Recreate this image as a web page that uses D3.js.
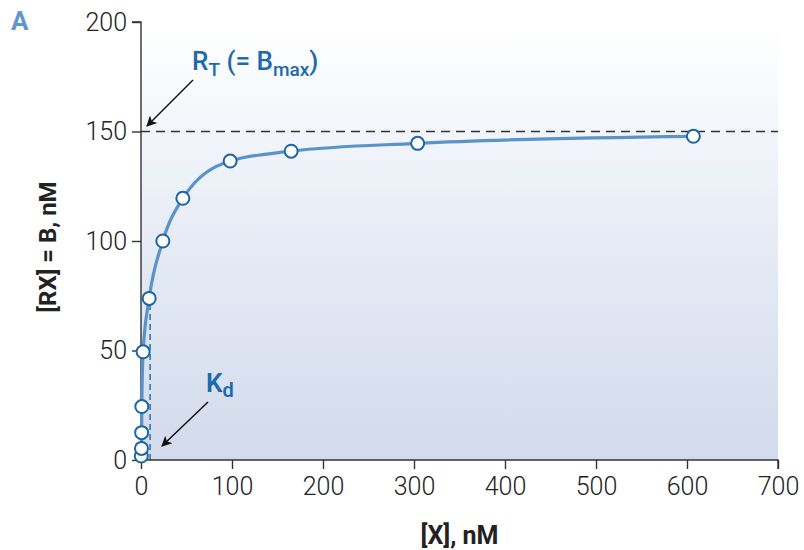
<!DOCTYPE html>
<html>
<head>
<meta charset="utf-8">
<script src="https://cdn.jsdelivr.net/npm/d3@7"></script>
<style>
body { margin: 0; background: #fff; }
svg text { font-family: "Roboto", "Liberation Sans", sans-serif; }
</style>
</head>
<body>
<div id="chart"></div>
<script>
// binding data
var ligandConc = [0.3, 0.5, 0.7, 0.9, 2.3, 9, 24, 46, 98, 165, 304, 607];   // [X], nM
var bound      = [1.8, 5.3, 12.5, 24.4, 49.4, 73.8, 100, 119.5, 136.5, 141, 144.6, 147.8]; // [RX], nM
var bmax = 150;
var kd = 10;
var kdHalf = 74;
var xTicks = [0, 100, 200, 300, 400, 500, 600, 700];
var xMinorTicks = [0, 50, 100, 150, 200, 250, 300, 350, 400, 450, 500, 550, 600, 650, 700];
var yTicks = [0, 50, 100, 150, 200];

var width = 804, height = 550;
var margin = {left: 141, right: 26, top: 22, bottom: 90};

var svg = d3.select("#chart").append("svg")
  .attr("width", width)
  .attr("height", height);

var x = d3.scaleLinear().domain([0, 700]).range([margin.left, width - margin.right]);
var y = d3.scaleLinear().domain([0, 200]).range([height - margin.bottom, margin.top]);

var defs = svg.append("defs");
var grad = defs.append("linearGradient").attr("id", "bg")
  .attr("x1", 0).attr("y1", 0).attr("x2", 0).attr("y2", 1);
grad.append("stop").attr("offset", "0%").attr("stop-color", "#ffffff");
grad.append("stop").attr("offset", "45%").attr("stop-color", "#e8edf6");
grad.append("stop").attr("offset", "100%").attr("stop-color", "#d2daec");

var mk = defs.append("marker").attr("id", "arrow")
  .attr("viewBox", "0 0 10 10").attr("refX", 9).attr("refY", 5)
  .attr("markerWidth", 8).attr("markerHeight", 7)
  .attr("markerUnits", "strokeWidth")
  .attr("orient", "auto");
mk.append("path").attr("d", "M0,0 L10,5 L0,10 L2.5,5 z").attr("fill", "#111");

// shaded plot area
svg.append("rect")
  .attr("x", x(0)).attr("y", y(200))
  .attr("width", x(700) - x(0)).attr("height", y(0) - y(200))
  .attr("fill", "url(#bg)");

// Bmax dashed line
svg.append("line")
  .attr("x1", x(0)).attr("x2", x(700))
  .attr("y1", y(bmax)).attr("y2", y(bmax))
  .attr("stroke", "#333").attr("stroke-width", 1.6)
  .attr("stroke-dasharray", "9,6");

// Kd dashed line
svg.append("line")
  .attr("x1", x(kd)).attr("x2", x(kd))
  .attr("y1", y(0)).attr("y2", y(kdHalf))
  .attr("stroke", "#2a6fae").attr("stroke-width", 1.5)
  .attr("stroke-dasharray", "6,4");

// axes
var xAxis = svg.append("g").attr("transform", "translate(0," + y(0) + ")");
xAxis.call(d3.axisBottom(x).tickValues(xMinorTicks).tickSize(9).tickFormat(""));
xAxis.call(d3.axisBottom(x).tickValues(xTicks).tickSize(9).tickPadding(8));
xAxis.selectAll("path, line").attr("stroke", "#333").attr("stroke-width", 1.4);
xAxis.selectAll("text").attr("font-size", 25).attr("font-weight", 300).attr("fill", "#222");
xAxis.selectAll(".domain").attr("d", "M" + x(0) + ",0H" + x(700) + "V9");

var yAxis = svg.append("g").attr("transform", "translate(" + x(0) + ",0)");
yAxis.call(d3.axisLeft(y).tickValues(yTicks).tickSize(9).tickPadding(5));
yAxis.selectAll("path, line").attr("stroke", "#333").attr("stroke-width", 1.4);
yAxis.selectAll("text").attr("font-size", 25).attr("font-weight", 300).attr("fill", "#222");
yAxis.select(".domain").attr("d", "M-9," + y(200) + "H0V" + y(0));

// axis titles
svg.append("text")
  .attr("x", (x(0) + x(700)) / 2).attr("y", 544)
  .attr("text-anchor", "middle")
  .attr("font-size", 25).attr("font-weight", 700).attr("fill", "#222")
  .text("[X], nM");

svg.append("text")
  .attr("transform", "translate(56,247) rotate(-90)")
  .attr("text-anchor", "middle")
  .attr("font-size", 24).attr("font-weight", 700).attr("fill", "#222")
  .text("[RX] = B, nM");

// panel letter
svg.append("text")
  .attr("x", 11).attr("y", 30)
  .attr("font-size", 26).attr("font-weight", 700).attr("fill", "#5f96cf")
  .text("A");

// curve through the points
var pts = ligandConc.map(function(d, i) { return [d, bound[i]]; });
var line = d3.line()
  .x(function(d) { return x(d[0]); })
  .y(function(d) { return y(d[1]); })
  .curve(d3.curveMonotoneX);

svg.append("path")
  .datum([[0, 0]].concat(pts))
  .attr("d", line)
  .attr("fill", "none")
  .attr("stroke", "#5b93c9")
  .attr("stroke-width", 3.2);

svg.selectAll("circle.pt")
  .data(pts)
  .enter()
  .append("circle")
  .attr("class", "pt")
  .attr("cx", function(d) { return x(d[0]); })
  .attr("cy", function(d) { return y(d[1]); })
  .attr("r", 6.5)
  .attr("fill", "#fff")
  .attr("stroke", "#1c66a6")
  .attr("stroke-width", 2);

// annotations
var blue = "#1c6aab";
var rt = svg.append("text")
  .attr("x", 192).attr("y", 70)
  .attr("font-size", 26).attr("font-weight", 500).attr("fill", blue);
rt.append("tspan").text("R");
rt.append("tspan").attr("font-size", 19).attr("dy", 6).text("T");
rt.append("tspan").attr("dy", -6).text(" (= B");
rt.append("tspan").attr("font-size", 19).attr("dy", 6).text("max");
rt.append("tspan").attr("dy", -6).text(")");

svg.append("line")
  .attr("x1", 193).attr("y1", 80).attr("x2", 147).attr("y2", 126)
  .attr("stroke", "#111").attr("stroke-width", 1.5)
  .attr("marker-end", "url(#arrow)");

var kdt = svg.append("text")
  .attr("x", 206).attr("y", 392)
  .attr("font-size", 26).attr("font-weight", 600).attr("fill", blue);
kdt.append("tspan").text("K");
kdt.append("tspan").attr("font-size", 20).attr("dy", 5).text("d");

svg.append("line")
  .attr("x1", 208).attr("y1", 402).attr("x2", 162).attr("y2", 446)
  .attr("stroke", "#111").attr("stroke-width", 1.5)
  .attr("marker-end", "url(#arrow)");
</script>
</body>
</html>
